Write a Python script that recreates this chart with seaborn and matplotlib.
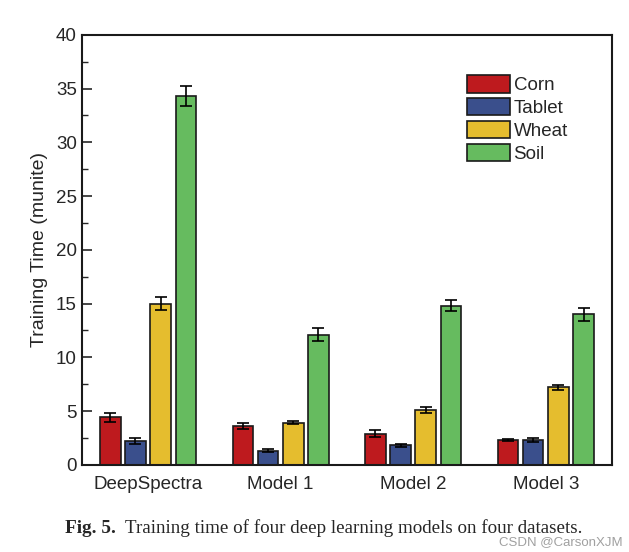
import pandas as pd
import matplotlib.pyplot as plt
import seaborn as sns
from matplotlib.ticker import MultipleLocator

# Data
models = ["DeepSpectra", "Model 1", "Model 2", "Model 3"]
datasets = ["Corn", "Tablet", "Wheat", "Soil"]
corn = [4.4, 3.6, 2.9, 2.3]
tablet = [2.2, 1.3, 1.8, 2.3]
wheat = [15.0, 3.9, 5.1, 7.2]
soil = [34.3, 12.1, 14.8, 14.0]
corn_err = [0.4, 0.3, 0.3, 0.1]
tablet_err = [0.25, 0.15, 0.1, 0.2]
wheat_err = [0.6, 0.15, 0.3, 0.2]
soil_err = [0.9, 0.6, 0.5, 0.6]
colors = ["#BE1A1E", "#3A4F8C", "#E5BD2E", "#66BB5F"]

# Long-form table for seaborn
rows = []
for ds, vals, errs in zip(datasets, [corn, tablet, wheat, soil],
                          [corn_err, tablet_err, wheat_err, soil_err]):
    for m, v, e in zip(models, vals, errs):
        rows.append({"model": m, "dataset": ds, "time": v, "err": e})
df = pd.DataFrame(rows)

sns.set_style("ticks")
plt.rcParams["font.family"] = ["Liberation Sans", "DejaVu Sans"]

fig = plt.figure(figsize=(6.29, 5.52), dpi=100)
ax = fig.add_axes([0.130, 0.158, 0.843, 0.779])

sns.barplot(data=df, x="model", y="time", hue="dataset", order=models,
            hue_order=datasets, palette=colors, saturation=1,
            edgecolor="#1a1a1a", linewidth=1.2, width=0.76, gap=0.18,
            errorbar=None, ax=ax)

# Error bars on top of each bar
for i, ds in enumerate(datasets):
    cont = ax.containers[i]
    sub = df[df["dataset"] == ds].set_index("model").loc[models]
    xs = [p.get_x() + p.get_width() / 2 for p in cont.patches]
    ax.errorbar(xs, sub["time"], yerr=sub["err"], fmt="none", ecolor="black",
                elinewidth=1.2, capsize=4, capthick=1.2, zorder=5)

ax.set_xlim(-0.5, 3.5)
ax.set_ylim(0, 40)
ax.yaxis.set_major_locator(MultipleLocator(5))
ax.yaxis.set_minor_locator(MultipleLocator(2.5))
ax.tick_params(axis="y", which="major", direction="in", length=7, width=1.2, labelsize=13.5)
ax.tick_params(axis="y", which="minor", direction="in", length=4, width=1.0)
ax.tick_params(axis="x", length=0, labelsize=13.5, pad=8)
for s in ax.spines.values():
    s.set_linewidth(1.5)
    s.set_color("#1a1a1a")

ax.set_xlabel("")
ax.set_ylabel("Training Time (munite)", fontsize=14, labelpad=6)

leg = ax.legend(loc="upper left", bbox_to_anchor=(0.726, 0.906), frameon=False,
                fontsize=13.5, handlelength=2.3, handleheight=1.05,
                labelspacing=0.2, handletextpad=0.2, borderaxespad=0,
                borderpad=0)

# Caption below the chart
fig.text(0.103, 0.043, "Fig. 5.", fontsize=13.9, fontweight="bold",
         family="Liberation Serif", ha="left", va="center")
fig.text(0.198, 0.043, "Training time of four deep learning models on four datasets.",
         fontsize=13.7, family="Liberation Serif", ha="left", va="center")
fig.text(0.99, 0.018, "CSDN @CarsonXJM", fontsize=9.5, color="#a0a0a0",
         ha="right", va="center")

fig.savefig("out.png", dpi=100)
